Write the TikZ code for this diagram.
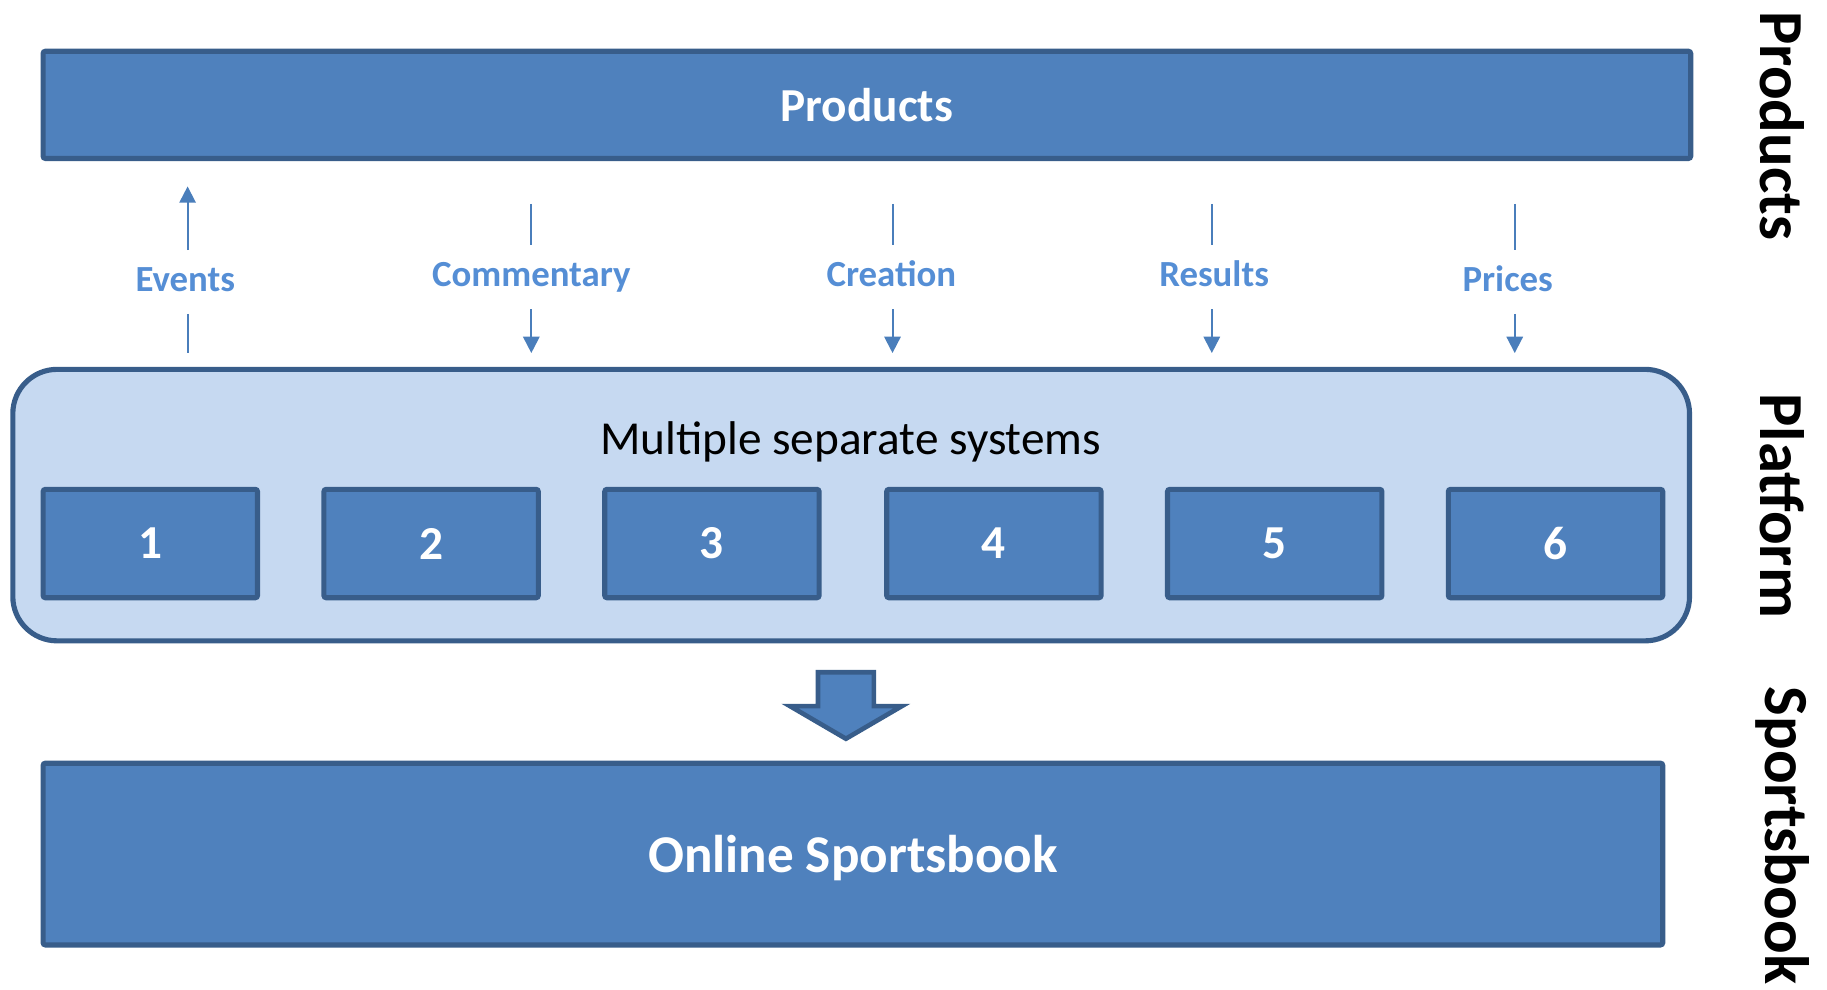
\documentclass[tikz,border=0pt]{standalone}
\usepackage{fontspec}
\setmainfont{Carlito}
\usetikzlibrary{arrows.meta}
\definecolor{boxfill}{HTML}{4F81BD}
\definecolor{boxline}{HTML}{385D8A}
\definecolor{panel}{HTML}{C6D9F1}
\definecolor{flowtext}{HTML}{558ED5}
\definecolor{flowline}{HTML}{4A7EBB}
\tikzset{
  bluebox/.style={draw=boxline, fill=boxfill, line width=2.2pt, rounded corners=1pt,
    text=white, font=\fontsize{20.3}{24}\selectfont\bfseries, inner sep=0pt},
  sysbox/.style={bluebox, minimum width=92pt, minimum height=46.5pt},
  panelbox/.style={draw=boxline, fill=panel, line width=2.2pt, rounded corners=19pt, inner sep=0pt},
  flowlabel/.style={text=flowtext, font=\fontsize{15.8}{19}\selectfont\bfseries,
    inner sep=0pt, text height=11pt, text depth=3pt, minimum height=27pt},
  flowlink/.style={draw=flowline, line width=0.85pt},
  flowarrow/.style={flowlink, -{Triangle[width=7pt,length=7pt]}},
  sidelabel/.style={rotate=-90, font=\fontsize{26.9}{32}\selectfont\bfseries, inner sep=0pt},
}
\begin{document}
\begin{tikzpicture}[x=0.5pt,y=-0.5pt]
\useasboundingbox (0,0) rectangle (1568,849);

% top layer
\node[bluebox, minimum width=707pt, minimum height=46pt] (prod) at (744,90) {Products};

% platform panel with its systems
\node[panelbox, minimum width=719.5pt, minimum height=116.5pt] (plat) at (730.5,433.5) {};
\node[font=\fontsize{20.3}{24}\selectfont] (multi) at (730,379) {Multiple separate systems};
\foreach \i/\x in {1/129, 2/370, 3/611, 4/853, 5/1094, 6/1335}
  \node[sysbox] (sys\i) at (\x,466.5) {\i};

% bottom layer
\node[bluebox, minimum width=695pt, minimum height=78pt, text height=15.6pt, text depth=0pt,
  font=\fontsize{22.8}{27}\selectfont\bfseries] (book) at (732,733) {Online Sportsbook};

% block arrow from platform to sportsbook
\draw[draw=boxline, fill=boxfill, line width=2pt, line join=miter]
  (702,577) -- (750,577) -- (750,606) -- (774,606) -- (726,634) -- (678,606) -- (702,606) -- cycle;

% data flows between platform and products (upward for events)
\node[flowlabel] (ev) at (159,242) {Events};
\coordinate (evtop) at (161,160);
\coordinate (evbot) at (161,303);
\draw[flowarrow] (evtop |- ev.north) -- (evtop);
\draw[flowlink] (evbot |- ev.south) -- (evbot);

\foreach \n/\x/\lx/\ly/\t in {cm/456/456/238/Commentary, cr/766/765/238/Creation,
                             rs/1040/1042/238/Results, pr/1300/1294/242/Prices}{
  \node[flowlabel] (\n) at (\lx,\ly) {\t};
  \coordinate (\n top) at (\x,175);
  \coordinate (\n bot) at (\x,303);
  \draw[flowlink] (\n top) -- (\n top |- \n.north);
  \draw[flowarrow] (\n bot |- \n.south) -- (\n bot);
}

% layer names
\node[sidelabel] (lprod) at (1530,108) {Products};
\node[sidelabel] (lplat) at (1530,434) {Platform};
\node[sidelabel] (lbook) at (1530,717) {Sportsbook};
\end{tikzpicture}
\end{document}
